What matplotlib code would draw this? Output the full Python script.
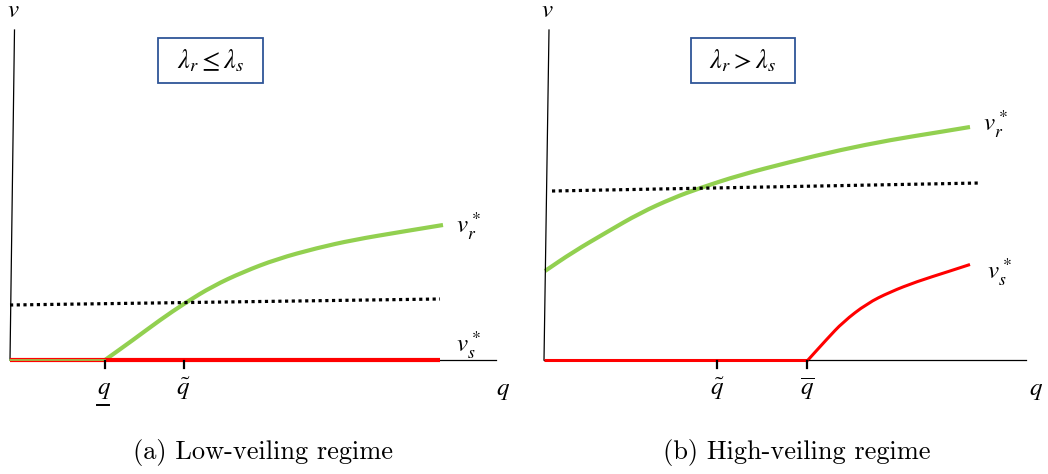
import matplotlib
matplotlib.use("Agg")
import matplotlib.pyplot as plt
from matplotlib.patches import Rectangle, PathPatch
from matplotlib.path import Path

plt.rcParams['mathtext.fontset'] = 'stix'

# Values, in picture pixel units (y grows downward)
# Panel (a): low-veiling regime
a_axis_x = [10, 496]
a_axis_y = [360, 360]
a_vaxis_x = [14.5, 10]
a_vaxis_y = [30, 360]
a_red_x = [10, 440]
a_red_y = [360, 360]
a_green_x = [10, 105, 133, 160, 185, 213, 243, 277, 317, 353, 400, 443]
a_green_y = [360, 360, 340, 320, 303, 286, 272, 259, 248, 240, 232, 225]
a_dot_x = [10, 440]
a_dot_y = [305, 299]
a_ticks = [105, 184]
a_tick_labels = [r'$q$', r'$\tilde{q}$']

# Panel (b): high-veiling regime
b_axis_x = [544, 1026]
b_axis_y = [360, 360]
b_vaxis_x = [549, 544]
b_vaxis_y = [30, 360]
b_red_x = [544, 808, 827, 843, 867, 890, 917, 947, 970]
b_red_y = [360, 360, 339, 322, 303.5, 292, 281.5, 272, 264.5]
b_green_x = [545, 573, 607, 640, 673, 700, 740, 790, 840, 890, 940, 970]
b_green_y = [271, 252, 232, 213, 198, 188, 175, 162, 150, 140, 132, 127]
b_dot_x = [552, 980]
b_dot_y = [191, 183]
b_ticks = [717, 807]
b_tick_labels = [r'$\tilde{q}$', r'$\overline{q}$']

green = '#92D050'
red = '#FF0000'
box_blue = '#2F5597'


def smooth_curve(ax, xs, ys, color, lw):
    # quadratic bezier through the read points, passes through segment midpoints
    pts = list(zip(xs, ys))
    verts = [pts[0]]
    codes = [Path.MOVETO]
    if len(pts) > 2:
        verts.append(((pts[0][0] + pts[1][0]) / 2, (pts[0][1] + pts[1][1]) / 2))
        codes.append(Path.LINETO)
        for i in range(1, len(pts) - 1):
            nxt = pts[i + 1]
            end = nxt if i == len(pts) - 2 else ((pts[i][0] + nxt[0]) / 2, (pts[i][1] + nxt[1]) / 2)
            verts += [pts[i], end]
            codes += [Path.CURVE3, Path.CURVE3]
    else:
        verts.append(pts[1])
        codes.append(Path.LINETO)
    ax.add_patch(PathPatch(Path(verts, codes), fill=False, edgecolor=color,
                           lw=lw, capstyle='butt', joinstyle='round'))


fig = plt.figure(figsize=(10.48, 4.74), dpi=100)
ax = fig.add_axes([0, 0, 1, 1])
ax.set_xlim(0, 1048)
ax.set_ylim(474, 0)
ax.axis('off')

# panel (a)
ax.plot(a_axis_x, a_axis_y, color='black', lw=0.9)
ax.plot(a_vaxis_x, a_vaxis_y, color='black', lw=0.9)
ax.plot(a_red_x, a_red_y, color=red, lw=3, solid_capstyle='butt')
ax.plot(a_dot_x, a_dot_y, color='black', lw=2.3, linestyle=(0, (1, 1.1)))
ax.plot(a_green_x[:2], a_green_y[:2], color=green, lw=1.2)
smooth_curve(ax, a_green_x[1:], a_green_y[1:], green, 3)
for t, lab in zip(a_ticks, a_tick_labels):
    ax.plot([t, t], [361, 368], color='black', lw=1.6)
    ax.text(t - 1, 389, lab, fontsize=18, ha='center', va='center')
# underline of the lower threshold q
ax.plot([a_ticks[0] - 8, a_ticks[0] + 4], [405, 405], color='black', lw=1.4)
ax.text(503, 390, r'$q$', fontsize=18, ha='center', va='center')
ax.text(13, 10, r'$v$', fontsize=18, ha='center', va='center')
ax.add_patch(Rectangle((158, 38), 105, 45, fill=False, edgecolor=box_blue, lw=1.3))
ax.text(211, 61, r'$\lambda_r \leq \lambda_s$', fontsize=19, ha='center', va='center')
ax.text(468, 226, r'$v_r^*$', fontsize=18, ha='center', va='center')
ax.text(468, 345, r'$v_s^*$', fontsize=18, ha='center', va='center')
ax.text(263, 453, '(a) Low-veiling regime', fontsize=19, family='cmr10',
        ha='center', va='center')

# panel (b)
ax.plot(b_axis_x, b_axis_y, color='black', lw=0.9)
ax.plot(b_vaxis_x, b_vaxis_y, color='black', lw=0.9)
ax.plot(b_dot_x, b_dot_y, color='black', lw=2.3, linestyle=(0, (1, 1.1)))
smooth_curve(ax, b_green_x, b_green_y, green, 3)
ax.plot(b_red_x[:2], b_red_y[:2], color=red, lw=2.2, solid_capstyle='butt')
smooth_curve(ax, b_red_x[1:], b_red_y[1:], red, 2.2)
for t, lab in zip(b_ticks, b_tick_labels):
    ax.plot([t, t], [361, 368], color='black', lw=1.6)
    ax.text(t, 389, lab, fontsize=18, ha='center', va='center')
ax.text(1036, 390, r'$q$', fontsize=18, ha='center', va='center')
ax.text(547, 10, r'$v$', fontsize=18, ha='center', va='center')
ax.add_patch(Rectangle((691, 38), 104, 45, fill=False, edgecolor=box_blue, lw=1.3))
ax.text(743, 61, r'$\lambda_r > \lambda_s$', fontsize=19, ha='center', va='center')
ax.text(995, 124, r'$v_r^*$', fontsize=18, ha='center', va='center')
ax.text(999, 272, r'$v_s^*$', fontsize=18, ha='center', va='center')
ax.text(797, 453, '(b) High-veiling regime', fontsize=19, family='cmr10',
        ha='center', va='center')

fig.savefig('out.png', dpi=100)
